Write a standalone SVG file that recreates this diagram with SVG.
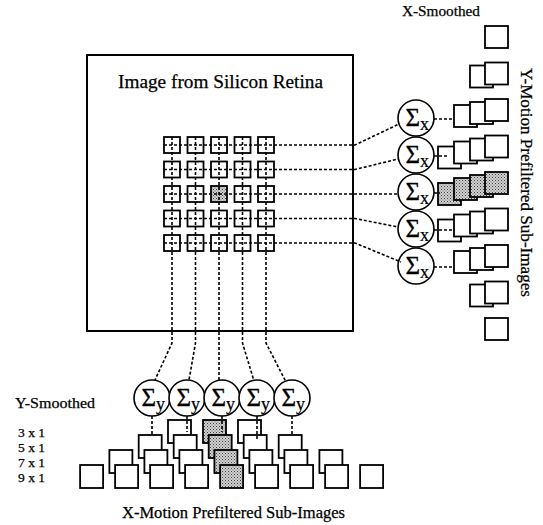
<svg xmlns="http://www.w3.org/2000/svg" width="543" height="525" viewBox="0 0 543 525">
<defs>
<pattern id="dots" width="3" height="3" patternUnits="userSpaceOnUse">
<rect width="3" height="3" fill="#d0d0d0"/>
<rect x="0" y="0" width="1" height="1" fill="#444"/>
<rect x="1.5" y="1.5" width="1" height="1" fill="#666"/>
</pattern>
</defs>
<style>
.frame{fill:#fff;stroke:#000;stroke-width:2}
.cell{fill:#fff;stroke:#000;stroke-width:1.8}
.sq{fill:#fff;stroke:#000;stroke-width:1.8}
.sh{fill:url(#dots)}
.sum{fill:#fff;stroke:#000;stroke-width:1.6}
.dot{fill:none;stroke:#000;stroke-width:1.6;stroke-dasharray:3 2}
.t{font-family:"Liberation Serif","Times New Roman",serif;fill:#000;stroke:#000;stroke-width:0.25}
.sig{font-family:"Liberation Serif","Times New Roman",serif;font-size:25px;fill:#000;stroke:#000;stroke-width:0.3}
.sub{font-family:"Liberation Serif","Times New Roman",serif;font-size:18px;fill:#000;stroke:#000;stroke-width:0.2}
</style>
<rect width="543" height="525" fill="#fff"/>

<g id="retina">
<rect class="frame" x="87" y="55" width="266" height="276"/>
<text class="t" x="118" y="88" font-size="19.5" textLength="205" lengthAdjust="spacingAndGlyphs">Image from Silicon Retina</text>
</g>

<g id="grid">
<rect class="cell" x="164" y="137" width="16" height="16"/><rect class="cell" x="187.5" y="137" width="16" height="16"/><rect class="cell" x="211" y="137" width="16" height="16"/><rect class="cell" x="234.5" y="137" width="16" height="16"/><rect class="cell" x="258" y="137" width="16" height="16"/>
<rect class="cell" x="164" y="161.5" width="16" height="16"/><rect class="cell" x="187.5" y="161.5" width="16" height="16"/><rect class="cell" x="211" y="161.5" width="16" height="16"/><rect class="cell" x="234.5" y="161.5" width="16" height="16"/><rect class="cell" x="258" y="161.5" width="16" height="16"/>
<rect class="cell" x="164" y="186" width="16" height="16"/><rect class="cell" x="187.5" y="186" width="16" height="16"/><rect class="cell sh" x="211" y="186" width="16" height="16"/><rect class="cell" x="234.5" y="186" width="16" height="16"/><rect class="cell" x="258" y="186" width="16" height="16"/>
<rect class="cell" x="164" y="210.5" width="16" height="16"/><rect class="cell" x="187.5" y="210.5" width="16" height="16"/><rect class="cell" x="211" y="210.5" width="16" height="16"/><rect class="cell" x="234.5" y="210.5" width="16" height="16"/><rect class="cell" x="258" y="210.5" width="16" height="16"/>
<rect class="cell" x="164" y="235" width="16" height="16"/><rect class="cell" x="187.5" y="235" width="16" height="16"/><rect class="cell" x="211" y="235" width="16" height="16"/><rect class="cell" x="234.5" y="235" width="16" height="16"/><rect class="cell" x="258" y="235" width="16" height="16"/>
</g>

<g id="sum-x-1"><circle class="sum" cx="416" cy="118" r="18"/><text class="sig" x="405.5" y="126">Σ</text><text class="sub" x="420" y="130">x</text></g>
<g id="sum-x-2"><circle class="sum" cx="416" cy="155" r="18"/><text class="sig" x="405.5" y="163">Σ</text><text class="sub" x="420" y="167">x</text></g>
<g id="sum-x-3"><circle class="sum" cx="416" cy="192" r="18"/><text class="sig" x="405.5" y="200">Σ</text><text class="sub" x="420" y="204">x</text></g>
<g id="sum-x-4"><circle class="sum" cx="416" cy="229" r="18"/><text class="sig" x="405.5" y="237">Σ</text><text class="sub" x="420" y="241">x</text></g>
<g id="sum-x-5"><circle class="sum" cx="416" cy="266" r="18"/><text class="sig" x="405.5" y="274">Σ</text><text class="sub" x="420" y="278">x</text></g>

<g id="sum-y-1"><circle class="sum" cx="152" cy="398" r="18"/><text class="sig" x="141.5" y="406">Σ</text><text class="sub" x="156" y="410">y</text></g>
<g id="sum-y-2"><circle class="sum" cx="187" cy="398" r="18"/><text class="sig" x="176.5" y="406">Σ</text><text class="sub" x="191" y="410">y</text></g>
<g id="sum-y-3"><circle class="sum" cx="222" cy="398" r="18"/><text class="sig" x="211.5" y="406">Σ</text><text class="sub" x="226" y="410">y</text></g>
<g id="sum-y-4"><circle class="sum" cx="257" cy="398" r="18"/><text class="sig" x="246.5" y="406">Σ</text><text class="sub" x="261" y="410">y</text></g>
<g id="sum-y-5"><circle class="sum" cx="292" cy="398" r="18"/><text class="sig" x="281.5" y="406">Σ</text><text class="sub" x="296" y="410">y</text></g>

<g id="y-motion-subimages">
<rect class="sq" x="438" y="146.5" width="23" height="22"/><rect class="sq sh" x="438" y="183" width="23" height="22"/><rect class="sq" x="438" y="219.5" width="23" height="22"/>
<rect class="sq" x="454" y="105" width="23" height="22"/><rect class="sq" x="454" y="141.5" width="23" height="22"/><rect class="sq sh" x="454" y="178" width="23" height="22"/><rect class="sq" x="454" y="214.5" width="23" height="22"/><rect class="sq" x="454" y="251" width="23" height="22"/>
<rect class="sq" x="470" y="65.5" width="23" height="22"/><rect class="sq" x="470" y="102" width="23" height="22"/><rect class="sq" x="470" y="138.5" width="23" height="22"/><rect class="sq sh" x="470" y="175" width="23" height="22"/><rect class="sq" x="470" y="211.5" width="23" height="22"/><rect class="sq" x="470" y="248" width="23" height="22"/><rect class="sq" x="470" y="284.5" width="23" height="22"/>
<rect class="sq" x="485" y="26" width="23" height="22"/><rect class="sq" x="485" y="62.5" width="23" height="22"/><rect class="sq" x="485" y="99" width="23" height="22"/><rect class="sq" x="485" y="135.5" width="23" height="22"/><rect class="sq sh" x="485" y="172" width="23" height="22"/><rect class="sq" x="485" y="208.5" width="23" height="22"/><rect class="sq" x="485" y="245" width="23" height="22"/><rect class="sq" x="485" y="281.5" width="23" height="22"/><rect class="sq" x="485" y="318" width="23" height="22"/>
</g>

<g id="x-motion-subimages">
<rect class="sq" x="168" y="420" width="23" height="23"/><rect class="sq sh" x="203" y="420" width="23" height="23"/><rect class="sq" x="238" y="420" width="23" height="23"/>
<rect class="sq" x="138.7" y="435" width="23" height="23"/><rect class="sq" x="173.7" y="435" width="23" height="23"/><rect class="sq sh" x="208.7" y="435" width="23" height="23"/><rect class="sq" x="243.7" y="435" width="23" height="23"/><rect class="sq" x="278.7" y="435" width="23" height="23"/>
<rect class="sq" x="109.4" y="450" width="23" height="23"/><rect class="sq" x="144.4" y="450" width="23" height="23"/><rect class="sq" x="179.4" y="450" width="23" height="23"/><rect class="sq sh" x="214.4" y="450" width="23" height="23"/><rect class="sq" x="249.4" y="450" width="23" height="23"/><rect class="sq" x="284.4" y="450" width="23" height="23"/><rect class="sq" x="319.4" y="450" width="23" height="23"/>
<rect class="sq" x="80.1" y="465" width="23" height="23"/><rect class="sq" x="115.1" y="465" width="23" height="23"/><rect class="sq" x="150.1" y="465" width="23" height="23"/><rect class="sq" x="185.1" y="465" width="23" height="23"/><rect class="sq sh" x="220.1" y="465" width="23" height="23"/><rect class="sq" x="255.1" y="465" width="23" height="23"/><rect class="sq" x="290.1" y="465" width="23" height="23"/><rect class="sq" x="325.1" y="465" width="23" height="23"/><rect class="sq" x="360.1" y="465" width="23" height="23"/>
</g>

<g id="connectors">
<path class="dot" d="M164 145 H355 L399 124"/>
<path class="dot" d="M164 169.5 H355 L398 159"/>
<path class="dot" d="M164 194 H398"/>
<path class="dot" d="M164 218.5 H355 L398 227"/>
<path class="dot" d="M164 243 H355 L401 262"/>
<path class="dot" d="M172 137 V343 L155 380"/>
<path class="dot" d="M195.5 137 V343 L189 380"/>
<path class="dot" d="M219 137 V380"/>
<path class="dot" d="M242.5 137 V343 L254 381"/>
<path class="dot" d="M266 137 V343 L286 382"/>
<path class="dot" d="M434 119 H454"/>
<path class="dot" d="M434 156 H448"/>
<path class="dot" d="M434 193 H440"/>
<path class="dot" d="M434 230 H455"/>
<path class="dot" d="M434 267 H454"/>
<path class="dot" d="M152 416 V435"/>
<path class="dot" d="M187 416 V432"/>
<path class="dot" d="M222 416 V432"/>
<path class="dot" d="M257 416 V440"/>
<path class="dot" d="M292 416 V435"/>
</g>

<g id="labels">
<text class="t" x="402" y="16" font-size="15" textLength="78" lengthAdjust="spacingAndGlyphs">X-Smoothed</text>
<text class="t" x="15" y="408" font-size="15" textLength="80" lengthAdjust="spacingAndGlyphs">Y-Smoothed</text>
<text class="t" x="18" y="437" font-size="13.5">3 x 1</text>
<text class="t" x="18" y="452" font-size="13.5">5 x 1</text>
<text class="t" x="18" y="467" font-size="13.5">7 x 1</text>
<text class="t" x="18" y="482" font-size="13.5">9 x 1</text>
<text class="t" x="122" y="518" font-size="16" textLength="223" lengthAdjust="spacingAndGlyphs">X-Motion Prefiltered Sub-Images</text>
<text class="t" transform="translate(521 68) rotate(90)" font-size="16" textLength="229" lengthAdjust="spacingAndGlyphs">Y-Motion Prefiltered Sub-Images</text>
</g>
</svg>
